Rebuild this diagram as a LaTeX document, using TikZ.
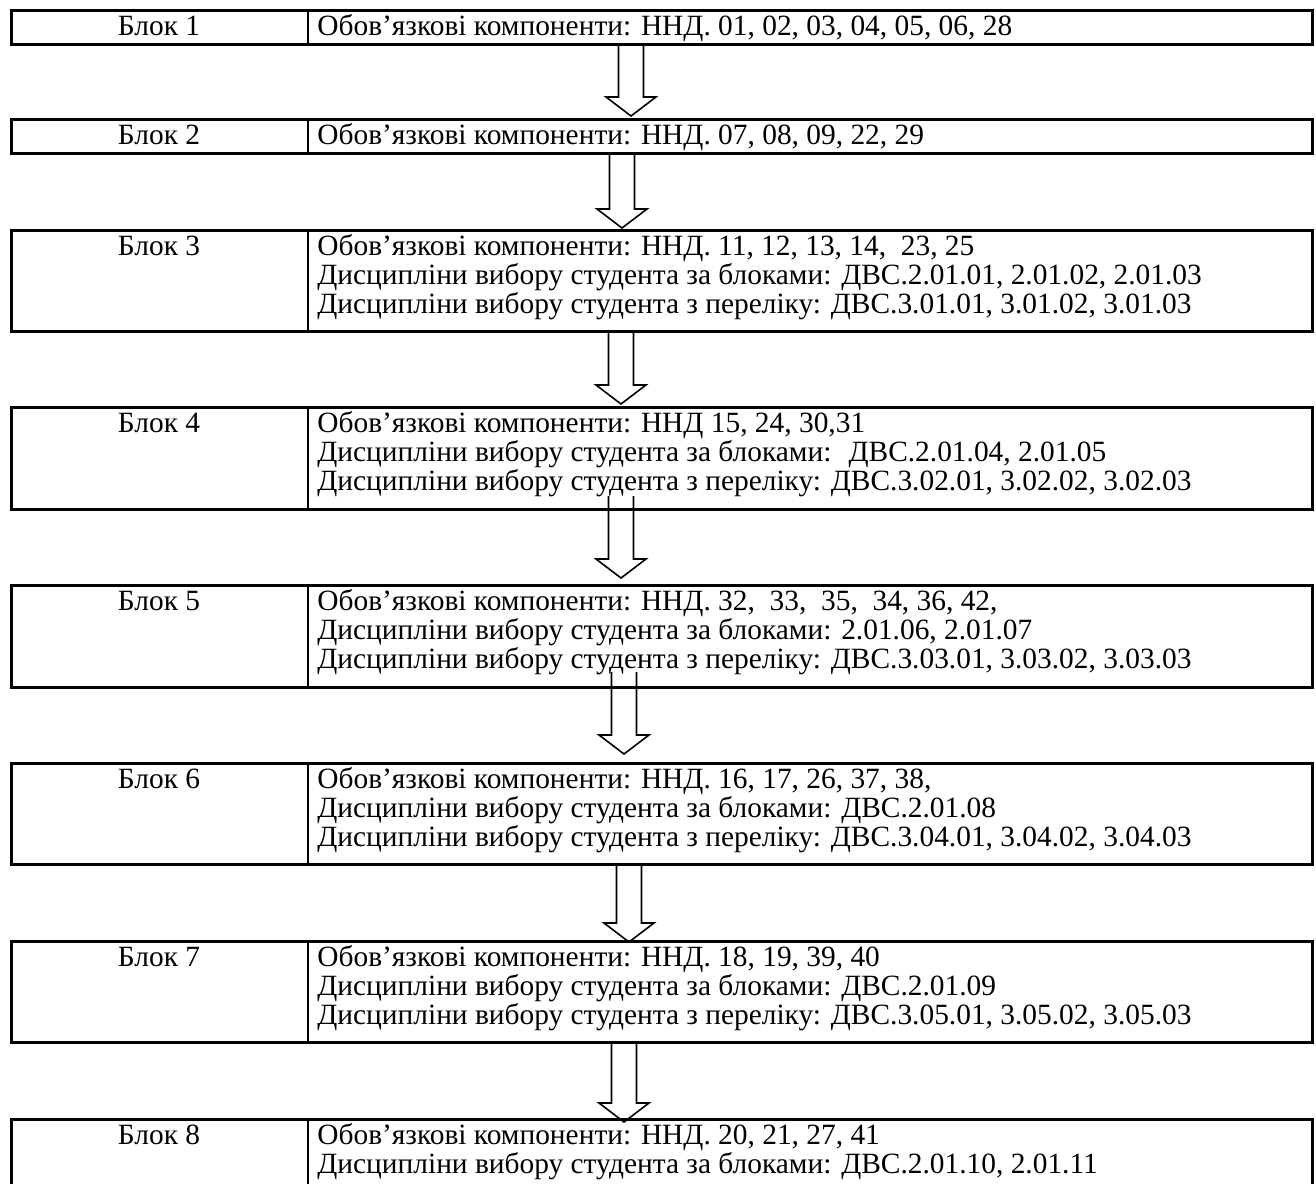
\documentclass[tikz,border=0pt]{standalone}
\usepackage{fontspec}
\setmainfont{Liberation Serif}
\usetikzlibrary{calc, positioning}

\tikzset{
  blockbox/.style={draw, line width=1.35pt, anchor=north west, inner sep=0pt, minimum width=650.5pt},
  blocklabel/.style={anchor=base, inner sep=0pt, font=\fontsize{14.7}{14}\selectfont},
  blocktext/.style={anchor=base west, inner sep=0pt, font=\fontsize{14.7}{14}\selectfont},
  hollow/.style={draw, line width=0.8pt},
}
\newcommand{\lines}[1]{\begin{tabular}[t]{@{}l@{}}#1\end{tabular}}
% hollow down arrow: centre x, top y, tip y (in px)
\newcommand{\hollowarrow}[3]{%
  \draw[hollow] (#1-12.5,#2) -- (#1-12.5,#3-19) -- (#1-25,#3-19) -- (#1,#3)
    -- (#1+25,#3-19) -- (#1+12.5,#3-19) -- (#1+12.5,#2);}

\begin{document}
\begin{tikzpicture}[x=0.5pt, y=-0.5pt]
  \useasboundingbox (0,0) rectangle (1316,1183);
  \begin{scope}
  \clip (0,0) rectangle (1316,1183);
  % blocks
  \node[blockbox, minimum height=17pt] (b1) at (10,9) {};
  \node[blockbox, minimum height=17pt] (b2) at (10,118) {};
  \node[blockbox, minimum height=50.5pt] (b3) at (10,229) {};
  \node[blockbox, minimum height=51pt] (b4) at (10,406) {};
  \node[blockbox, minimum height=51pt] (b5) at (10,584) {};
  \node[blockbox, minimum height=50.5pt] (b6) at (10,762) {};
  \node[blockbox, minimum height=50.5pt] (b7) at (10,940) {};
  \node[blockbox, minimum height=50.5pt] (b8) at (10,1118) {};
  \foreach \b in {b1,b2,b3,b4,b5,b6,b7,b8}
    \draw[line width=1.35pt] ($(\b.north west)+(298,0)$) -- ($(\b.south west)+(298,0)$);
  \end{scope}

  % left cells
  \node[blocklabel] (n1) at (159,35) {Блок 1};
  \node[blocklabel] (n2) at (159,144) {Блок 2};
  \node[blocklabel] (n3) at (159,255) {Блок 3};
  \node[blocklabel] (n4) at (159,432) {Блок 4};
  \node[blocklabel] (n5) at (159,610) {Блок 5};
  \node[blocklabel] (n6) at (159,788) {Блок 6};
  \node[blocklabel] (n7) at (159,966) {Блок 7};
  \node[blocklabel] (n8) at (159,1144) {Блок 8};

  % right cells
  \node[blocktext] (t1) at (317,35) {Обов’язкові компоненти: ННД. 01, 02, 03, 04, 05, 06, 28};
  \node[blocktext] (t2) at (317,144) {Обов’язкові компоненти: ННД. 07, 08, 09, 22, 29};
  \node[blocktext] (t3) at (317,255) {\lines{Обов’язкові компоненти: ННД. 11, 12, 13, 14,~ 23, 25\\
    Дисципліни вибору студента за блоками: ДВС.2.01.01, 2.01.02, 2.01.03\\
    Дисципліни вибору студента з переліку: ДВС.3.01.01, 3.01.02, 3.01.03}};
  \node[blocktext] (t4) at (317,432) {\lines{Обов’язкові компоненти: ННД 15, 24, 30,31\\
    Дисципліни вибору студента за блоками:~ ДВС.2.01.04, 2.01.05\\
    Дисципліни вибору студента з переліку: ДВС.3.02.01, 3.02.02, 3.02.03}};
  \node[blocktext] (t5) at (317,610) {\lines{Обов’язкові компоненти: ННД. 32,~ 33,~ 35,~ 34, 36, 42,\\
    Дисципліни вибору студента за блоками: 2.01.06, 2.01.07\\
    Дисципліни вибору студента з переліку: ДВС.3.03.01, 3.03.02, 3.03.03}};
  \node[blocktext] (t6) at (317,788) {\lines{Обов’язкові компоненти: ННД. 16, 17, 26, 37, 38,\\
    Дисципліни вибору студента за блоками: ДВС.2.01.08\\
    Дисципліни вибору студента з переліку: ДВС.3.04.01, 3.04.02, 3.04.03}};
  \node[blocktext] (t7) at (317,966) {\lines{Обов’язкові компоненти: ННД. 18, 19, 39, 40\\
    Дисципліни вибору студента за блоками: ДВС.2.01.09\\
    Дисципліни вибору студента з переліку: ДВС.3.05.01, 3.05.02, 3.05.03}};
  \node[blocktext] (t8) at (317,1144) {\lines{Обов’язкові компоненти: ННД. 20, 21, 27, 41\\
    Дисципліни вибору студента за блоками: ДВС.2.01.10, 2.01.11}};

  % arrows between blocks
  \hollowarrow{631}{43}{116}
  \hollowarrow{622}{152}{228}
  \hollowarrow{621}{330}{404}
  \hollowarrow{621}{496}{578}
  \hollowarrow{624}{672}{754}
  \hollowarrow{629}{863}{942}
  \hollowarrow{624}{1041}{1122}
\end{tikzpicture}
\end{document}
